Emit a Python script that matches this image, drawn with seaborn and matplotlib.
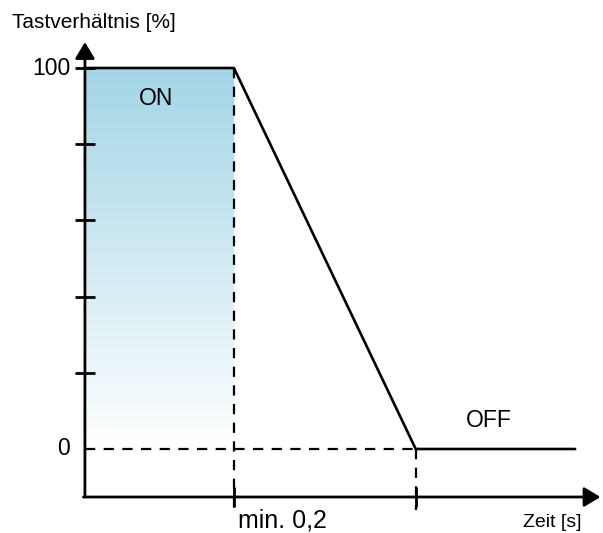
import numpy as np
import pandas as pd
import seaborn as sns
from matplotlib import pyplot as plt
from matplotlib.colors import LinearSegmentedColormap

# duty cycle curve
zeit = [0.0, 1.0, 2.22, 3.29]
tastverhaeltnis = [100, 100, 0, 0]
y_ticks = [20, 40, 60, 80, 100]
x_marks = [1.0, 2.22]

sns.set_theme(style='white')
plt.rcParams['font.family'] = ['Liberation Sans', 'DejaVu Sans']
plt.rcParams['text.color'] = 'black'

fig = plt.figure(figsize=(6.03, 5.33), dpi=100)
ax = fig.add_axes([0, 0, 1, 1])
ax.set_xlim(-0.570, 3.477)
ax.set_ylim(-22.05, 117.85)
ax.axis('off')

# gradient under ON phase
cmap = LinearSegmentedColormap.from_list('on', ['#ffffff', '#a3d5e6'])
grad = np.linspace(0, 1, 256).reshape(-1, 1)
ax.imshow(grad, cmap=cmap, origin='lower', aspect='auto',
          extent=[zeit[0], zeit[1], 0, 100], zorder=1)

df = pd.DataFrame({'Zeit': zeit, 'Tast': tastverhaeltnis})
sns.lineplot(data=df, x='Zeit', y='Tast', color='black', lw=1.9, ax=ax, zorder=4)

# dashed helper lines
dash = (0, (4.6, 3.8))
ax.plot([0, x_marks[1]], [0, 0], color='black', lw=1.6, ls=dash, zorder=3)
ax.plot([x_marks[0], x_marks[0]], [100, -16], color='black', lw=1.6, ls=dash, zorder=3)
ax.plot([x_marks[1], x_marks[1]], [0, -16], color='black', lw=1.6, ls=dash, zorder=3)

# axes with arrows
y_axis = -12.6
head = '-|>,head_length=0.45,head_width=0.27'
ax.annotate('', xy=(0, 106.8), xytext=(0, y_axis),
            arrowprops=dict(arrowstyle=head, lw=2, color='black', mutation_scale=22, shrinkA=0, shrinkB=0), zorder=5)
ax.annotate('', xy=(3.46, y_axis), xytext=(-0.01, y_axis),
            arrowprops=dict(arrowstyle=head, lw=2, color='black', mutation_scale=22, shrinkA=0, shrinkB=0), zorder=5)

ax.scatter([0] * len(y_ticks), y_ticks, marker='_', s=15 ** 2, linewidths=2, color='black', zorder=5)
ax.scatter(x_marks, [y_axis] * len(x_marks), marker='|', s=15 ** 2,
           linewidths=2, color='black', zorder=5)

# texts
ax.text(-0.10, 100, '100', ha='right', va='center', fontsize=16.5)
ax.text(-0.10, 0, '0', ha='right', va='center', fontsize=16.5)
ax.text(0.48, 92, 'ON', ha='center', va='center', fontsize=16.5)
ax.text(2.71, 7.4, 'OFF', ha='center', va='center', fontsize=16.5)
ax.text(1.03, -18.9, 'min. 0,2', ha='left', va='center', fontsize=18)
ax.text(3.33, -19.3, 'Zeit [s]', ha='right', va='center', fontsize=14)
ax.text(-0.49, 111.9, 'Tastverhältnis [%]', ha='left', va='center', fontsize=15)

fig.savefig('out.png', dpi=100)
